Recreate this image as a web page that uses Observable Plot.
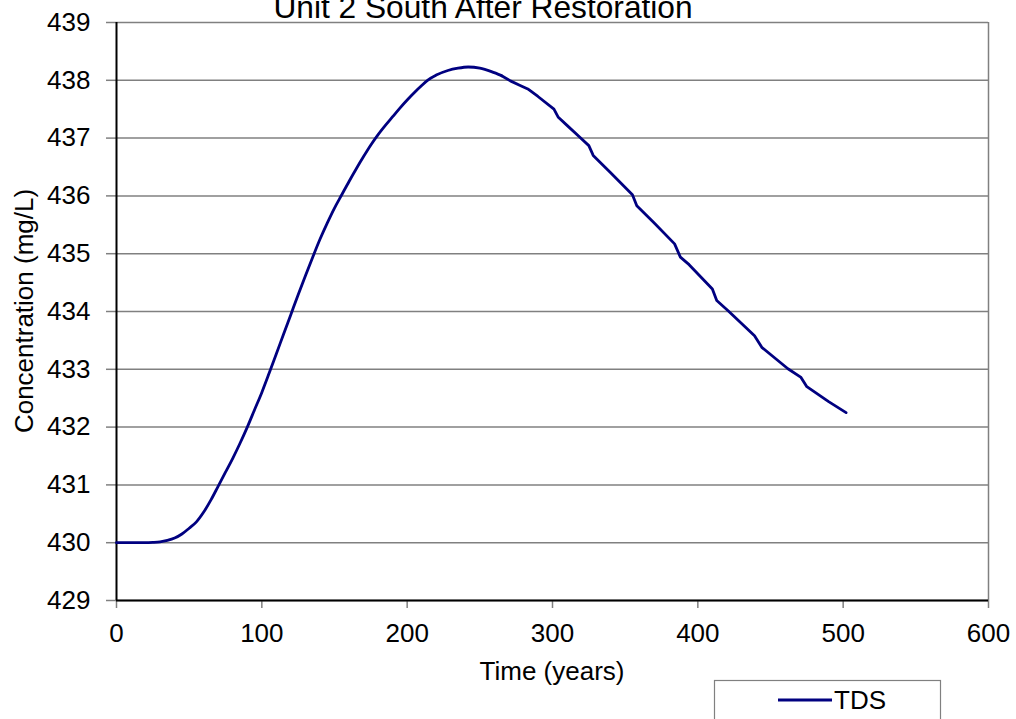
<!DOCTYPE html>
<html>
<head>
<meta charset="utf-8">
<script src="https://cdn.jsdelivr.net/npm/d3@7"></script>
<script src="https://cdn.jsdelivr.net/npm/@observablehq/plot@0.6"></script>
<style>
  body { margin: 0; background: #fff; overflow: hidden; }
  #chart svg { display: block; }
</style>
</head>
<body>
<div id="chart"></div>
<script>
// ---- data ----
const chartTitle = "Unit 2 South After Restoration";
const xLabel = "Time (years)";
const yLabel = "Concentration (mg/L)";
const seriesName = "TDS";

const years = [0, 10, 20, 25, 30, 35, 40, 45, 50, 55, 60, 65, 70, 75, 80, 85, 90, 95, 100, 105, 110, 115, 120,
  125, 130, 135, 140, 145, 150, 155, 160, 165, 170, 175, 180, 185, 190, 195, 200, 205, 210, 214, 220, 228, 235,
  242, 250, 258, 265, 271, 277, 283, 290, 301, 304, 310, 319, 325, 328, 340, 355, 358, 370, 384, 388, 394,
  410, 413, 421, 439, 444, 462, 471, 475, 490, 502];
const tds = [430, 430, 430, 430.005, 430.015, 430.04, 430.08, 430.15, 430.25, 430.36, 430.53, 430.74, 430.98,
  431.22, 431.46, 431.72, 432.0, 432.3, 432.6, 432.93, 433.27, 433.61, 433.95, 434.29, 434.62, 434.94, 435.25,
  435.53, 435.79, 436.02, 436.25, 436.47, 436.68, 436.88, 437.06, 437.22, 437.37, 437.52, 437.66, 437.79,
  437.91, 438.0, 438.09, 438.17, 438.21, 438.23, 438.21, 438.15, 438.08, 437.99, 437.92, 437.85, 437.72,
  437.5, 437.36, 437.22, 437.01, 436.87, 436.7, 436.4, 436.02, 435.83, 435.53, 435.17, 434.94, 434.81,
  434.39, 434.19, 434.01, 433.58, 433.38, 433.01, 432.86, 432.7, 432.44, 432.25];

const xTicks = [0, 100, 200, 300, 400, 500, 600];
const yTicks = [429, 430, 431, 432, 433, 434, 435, 436, 437, 438, 439];

const data = years.map((t, i) => ({t, v: tds[i]}));
const rising = data.filter(d => d.t <= 265);   // smooth dome
const falling = data.filter(d => d.t >= 265);  // stepped decline
const font = "'Liberation Sans', Arial, Helvetica, sans-serif";
const lineColor = "#000080";
const gridColor = "#808080";

const plot = Plot.plot({
  width: 1016,
  height: 719,
  marginLeft: 116,
  marginRight: 28,
  marginTop: 22,
  marginBottom: 119,
  style: {fontFamily: font, fontSize: "26px", background: "#fff", color: "#000", overflow: "visible"},
  x: {domain: [0, 600], ticks: xTicks},
  y: {domain: [429, 439], ticks: yTicks},
  marks: [
    Plot.gridY(yTicks, {stroke: gridColor, strokeOpacity: 1, strokeWidth: 1.5}),
    Plot.ruleX([600], {stroke: gridColor, strokeWidth: 1.5}),
    Plot.axisY(yTicks, {tickSize: 10, tickPadding: 16, stroke: gridColor, strokeWidth: 1.5, label: null, tickFormat: d => String(d)}),
    Plot.axisX(xTicks, {tickSize: 8, tickPadding: 15.5, stroke: gridColor, strokeWidth: 1.5, label: null, tickFormat: d => String(d)}),
    Plot.ruleX([0], {stroke: "#000", strokeWidth: 2}),
    Plot.ruleY([429], {stroke: "#000", strokeWidth: 2}),
    Plot.line(rising, {x: "t", y: "v", stroke: lineColor, strokeWidth: 2.8, curve: "monotone-x", strokeLinecap: "round"}),
    Plot.line(falling, {x: "t", y: "v", stroke: lineColor, strokeWidth: 2.8, curve: "linear", strokeLinejoin: "round", strokeLinecap: "round"})
  ]
});

document.getElementById("chart").appendChild(plot);

const svg = d3.select(plot);
const xs = plot.scale("x"), ys = plot.scale("y");
const x0 = xs.apply(0), x1 = xs.apply(600);
const yTop = ys.apply(439), yBot = ys.apply(429);

// title (partly cut by the top edge, as in the reference)
svg.append("text")
  .attr("x", 483).attr("y", 18)
  .attr("text-anchor", "middle")
  .attr("font-family", font).attr("font-size", 31.7).attr("fill", "#000")
  .text(chartTitle);

// x axis label
svg.append("text")
  .attr("x", (x0 + x1) / 2).attr("y", 680)
  .attr("text-anchor", "middle")
  .attr("font-family", font).attr("font-size", 26).attr("fill", "#000")
  .text(xLabel);

// y axis label
svg.append("text")
  .attr("transform", `translate(33,${(yTop + yBot) / 2}) rotate(-90)`)
  .attr("text-anchor", "middle")
  .attr("font-family", font).attr("font-size", 26).attr("fill", "#000")
  .text(yLabel);

// legend
const lg = svg.append("g");
lg.append("rect")
  .attr("x", 714.5).attr("y", 680.5).attr("width", 226).attr("height", 60)
  .attr("fill", "#fff").attr("stroke", gridColor).attr("stroke-width", 1.2);
lg.append("line")
  .attr("x1", 778).attr("x2", 832).attr("y1", 700).attr("y2", 700)
  .attr("stroke", lineColor).attr("stroke-width", 2.8);
lg.append("text")
  .attr("x", 834).attr("y", 709)
  .attr("text-anchor", "start")
  .attr("font-family", font).attr("font-size", 26).attr("fill", "#000")
  .text(seriesName);
</script>
</body>
</html>
